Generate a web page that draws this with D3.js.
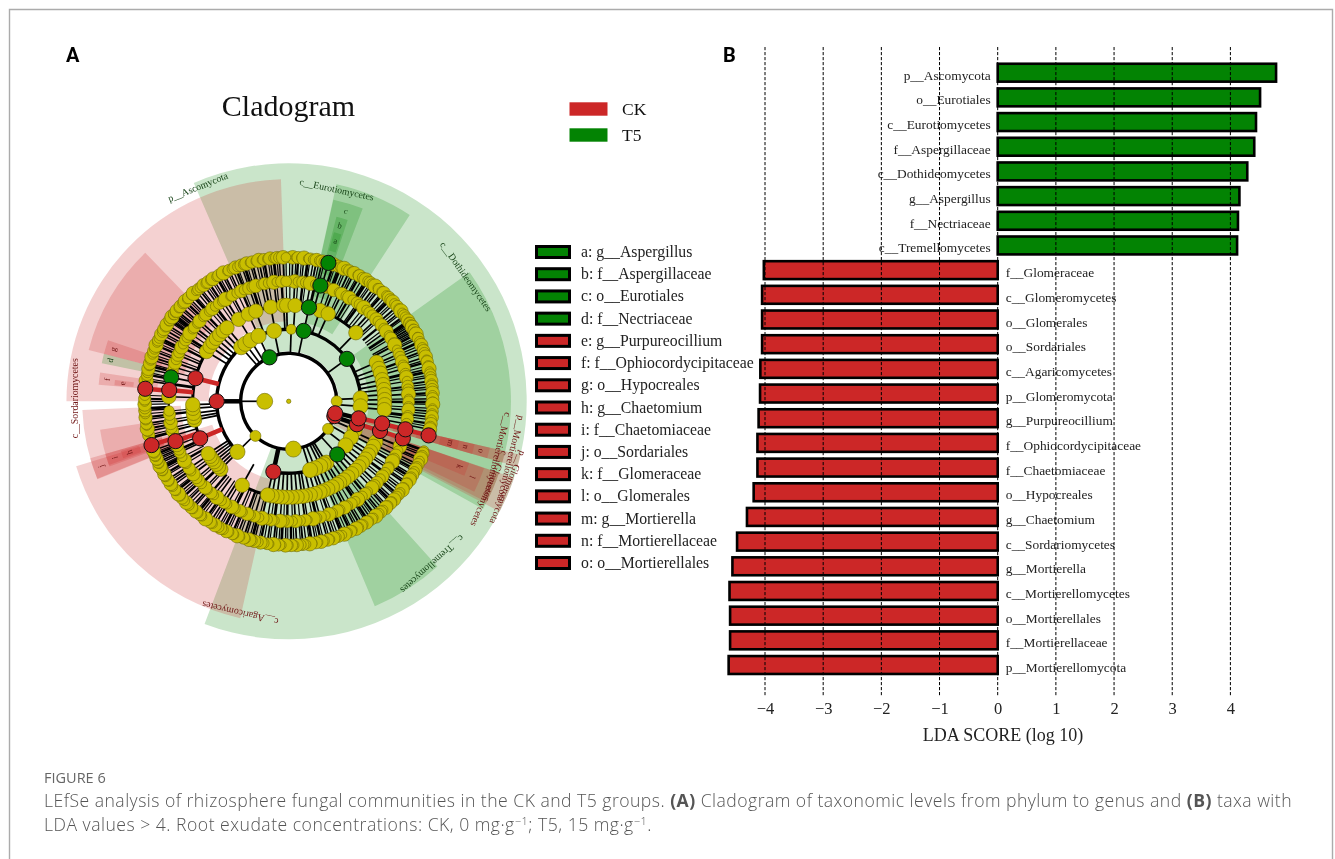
<!DOCTYPE html>
<html>
<head>
<meta charset="utf-8">
<script src="https://cdnjs.cloudflare.com/ajax/libs/d3/7.8.5/d3.min.js"></script>
<style>
html,body{margin:0;padding:0;background:#fff;}
svg{display:block;}
.serif{font-family:"Liberation Serif",serif;}
</style>
</head>
<body>
<svg id="chart" width="1335" height="859"></svg>
<script>
// ---------- panel B data ----------
const t5Taxa = ["p__Ascomycota","o__Eurotiales","c__Eurotiomycetes","f__Aspergillaceae","c__Dothideomycetes","g__Aspergillus","f__Nectriaceae","c__Tremellomycetes"];
const t5Scores = [4.785,4.51,4.44,4.41,4.29,4.155,4.13,4.115];
const ckTaxa = ["f__Glomeraceae","c__Glomeromycetes","o__Glomerales","o__Sordariales","c__Agaricomycetes","p__Glomeromycota","g__Purpureocillium","f__Ophiocordycipitaceae","f__Chaetomiaceae","o__Hypocreales","g__Chaetomium","c__Sordariomycetes","g__Mortierella","c__Mortierellomycetes","o__Mortierellales","f__Mortierellaceae","p__Mortierellomycota"];
const ckScores = [-4.02,-4.05,-4.05,-4.05,-4.08,-4.085,-4.11,-4.13,-4.13,-4.195,-4.31,-4.48,-4.56,-4.61,-4.60,-4.60,-4.625];
const ldaTicks = [-4,-3,-2,-1,0,1,2,3,4];

// ---------- legends ----------
const groupNames = ["CK","T5"];
const cladeKeyT5 = ["a: g__Aspergillus","b: f__Aspergillaceae","c: o__Eurotiales","d: f__Nectriaceae"];
const cladeKeyCK = ["e: g__Purpureocillium","f: f__Ophiocordycipitaceae","g: o__Hypocreales","h: g__Chaetomium","i: f__Chaetomiaceae","j: o__Sordariales","k: f__Glomeraceae","l: o__Glomerales","m: g__Mortierella","n: f__Mortierellaceae","o: o__Mortierellales"];

// ---------- cladogram highlighted clades: [group, level, start deg, end deg, letter] ----------
const cladeWedges = [
 ["T5",2,-23.5,200.7,""],
 ["CK",3,192.6,253,""],
 ["CK",3,270,358,""],
 ["CK",4,248,267.6,""],
 ["CK",4,284.4,316,""],
 ["CK",5,284.4,288.7,"g"],
 ["T5",5,281.5,284.4,"d"],
 ["CK",5,275,278.7,"f"],
 ["CK",6,275.3,277,"e"],
 ["CK",5,250.5,261.4,""],
 ["CK",4,247.8,254,"j"],
 ["CK",5,250,254,"i"],
 ["CK",6,251,253.5,"h"],
 ["T5",3,12.4,33,""],
 ["T5",4,12.5,21,"c"],
 ["T5",5,14.5,18,"b"],
 ["T5",6,15,17.5,"a"],
 ["T5",3,54.5,119,""],
 ["T5",3,138,157.2,""],
 ["CK",2,103,106,""],
 ["CK",3,103,106,""],
 ["CK",4,103,106,"o"],
 ["CK",5,103,106,"n"],
 ["CK",6,103,106,"m"],
 ["CK",2,108.8,117.6,""],
 ["CK",3,108.8,117,""],
 ["CK",4,108.9,116,"l"],
 ["CK",5,108.9,113,"k"]
];
// rotated clade labels: [text, group, angle of the baseline, anchor x, anchor y, anchor mode]
const cladeLabels = [
 ["p__Ascomycota","T5",-22,199,190,"middle"],
 ["c__Eurotiomycetes","T5",12,336,192.7,"middle"],
 ["c__Dothideomycetes","T5",55,463.3,278.3,"middle"],
 ["c__Tremellomycetes","T5",138,430,561.7,"middle"],
 ["c__Agaricomycetes","CK",193,241,610,"middle"],
 ["c__Sordariomycetes","CK",-90,78,398.3,"middle"],
 ["p__Mortierellomycota","CK",104,518.3,415,"start"],
 ["c__Mortierellomycetes","CK",104,505,411.7,"start"],
 ["p__Glomeromycota","CK",113,520,450,"start"],
 ["c__Glomeromycetes","CK",113,502,450,"start"]
];

// ---------- cladogram nodes (angle in degrees clockwise from north) ----------
const level0Angles = [0];
const level1Angles = [270];
const level2Yellow = [90,125,174.4,223.9];
const level3Yellow = [-41.3,-37,-32,-24.8,-11.7,2,87.6,94,113.4,120,127.8,148.5,151,154,158.5,162.7,225.4];
const level4Yellow = [-58.8,-55,-52,-49,-46,-43,-40,-31.4,-24.8,-20,-10.8,-3,-1.2,3.8,19,24.3,44.4,66,70,73,77,80,83,86,89,92,95,115,118,121.6,124,127,130,133,136,139,142,145,148,150,153,156,159,161,164,167,170,172,175,178,181,184,187,190,192.7,209,225,227,229,231,233,235,237,258.7,260.5,262.8,265.8,268];
const level5Yellow = [0.6,2.9,4.4,6.8,8.1,10.5,12.7,18.2,20.6,22.1,24.9,26.3,28.8,30.4,32.2,34.9,36.1,38.7,40.3,42.5,44.2,46.9,48.1,50.6,52.8,54.4,56.7,58.3,60.9,62.1,64.5,66.8,68.2,70.7,72.4,74.1,76.8,78.5,80.3,82.9,84.2,86.6,88.8,90.3,92.7,94.1,96.8,98.4,100.9,112,114.3,116.7,118.4,120.2,122.9,124.1,126.6,128.8,130.2,132.7,134.3,136.1,138.8,140.5,142.3,144.9,146.2,148.6,150.8,152.3,154.7,156.1,158.9,160.4,162.2,164.8,166.5,168.3,170.9,172.1,174.6,176.8,178.2,180.7,182.4,184.1,186.8,188.5,190.3,192.9,194.2,196.6,198.8,200.3,202.7,204.1,206.8,208.4,210.9,212.6,214.2,216.8,218.5,220.3,222.9,224.1,226.6,228.8,230.2,232.7,234.4,236.1,238.8,240.5,242.3,244.9,246.2,248.6,253.4,255.8,257.2,259.7,261.1,263.8,265.4,272.2,278.4,284.2,286.6,288.8,290.3,292.7,294.1,296.8,298.4,300.9,302.2,304.6,306.8,308.3,310.7,312.1,314.8,316.4,318.9,320.6,322.2,324.8,326.5,328.3,330.9,332.1,334.6,336.8,338.2,340.7,342.4,344.1,346.8,348.5,350.3,352.9,354.2,356.6,358.8];
const level6Yellow = [0.4,1.6,2.9,3.8,5.2,6.1,7.7,8.6,10,11.2,12.3,13.5,14.4,18.1,19,20.3,21.1,22.6,23.5,25,26.2,27.1,28.7,29.5,31,32.4,33.2,34.6,35.4,36.9,38.1,39,40.5,41.3,42.8,44,44.9,46.3,47.2,48.8,50,51.2,52,53.5,54.3,55.9,56.6,57.4,58.1,59,59.8,60.5,61.3,62.2,63.4,64.1,65.6,67,68.1,69.5,70.4,72,73.2,74.1,75.7,76.9,78,79.4,80.3,81.9,83,84.2,85.1,86.7,87.6,89,90.3,91.2,92.8,94,95.1,96.3,97.4,99,100.2,101.3,110,111.2,112.1,113.6,114.4,116,117.1,118.3,119.2,120.8,121.9,123,124.4,125.2,126.9,128,129.1,130.5,131.4,133,134.2,135.1,136.7,137.6,139,140.3,141.2,142.8,143.9,145,146.4,147.3,148.9,150,151.2,152.1,153.7,154.6,156,157.3,158.2,159.8,160.9,162,163.4,164.3,165.9,167,168.2,169.1,170.7,171.6,173,174.3,175.2,176.8,177.9,179,180.4,181.3,182.9,184,185.2,186.1,187.7,188.6,190,191.3,192.2,193.8,194.9,196,197.4,198.3,199.9,201,202.2,203.1,204.7,205.6,207,208.3,209.2,210.8,211.9,213,214.4,215.3,216.9,218,219.2,220.1,221.7,222.6,224,225.3,226.2,227.8,228.9,230,231.4,232.3,233.9,235,236.2,237.1,238.7,239.6,241,241.8,242.5,243.3,244.2,245,245.9,246.6,247.4,248.3,249.1,250,255.2,256.4,257.9,259,260.2,261.1,262.7,263.6,265,266.3,267.2,268.8,269.9,271,272.4,278.2,279.1,280.7,281.6,283,284.3,285.2,286.8,287.9,289,290.4,291.3,292.9,294,295.2,296.1,297.7,298.6,300,301.3,302.2,303.8,304.5,305.2,305.9,306.7,307.4,308.2,309,310.4,311.3,312.9,314,315.2,316.1,317.7,318.6,320,321.3,322.2,323.8,324.9,326,327.4,328.3,329.9,331,332.2,333.1,334.7,335.6,337,338.3,339.2,340.8,341.9,343,344.4,345.3,346.9,348,349.2,350.1,351.7,352.6,354,355.3,356.2,357.8,358.9];
// significant nodes: [level, angle]
const t5Nodes = [[2,-23.7],[3,12],[3,53.9],[3,137.6],[4,12.2],[5,15.3],[6,16],[5,281.5]];
const ckNodes = [[2,108],[3,108.6],[4,108],[5,108],[2,104.5],[3,103.7],[4,103.3],[5,103.5],[6,103.7],[3,270],[3,192.3],[4,247.3],[4,283.9],[5,250.6],[6,252.3],[5,275.4],[6,275]];
// branch arcs: [level, start deg, end deg]
const branchArcs = [[2,92,452],[3,-41,87],[3,120,192],[3,225,319],[4,12,44],[4,-58,-10],[4,66,96],[4,115,209],[4,225,237],[4,247,320],[5,0,360]];

// ---------- style tables ----------
const groupColor = {CK:"#cc2727", T5:"#038303"};
const labelColor = {CK:"#6f1414", T5:"#123f12"};
const leafRadiusCycle = [5.6,6.9,4.8,6.2,5.2,7.2,4.6,6,5.4,6.7,5,6.4];
const spokeWidthCycle = [1.2,1.7,1.2,2.4,1.1,1.5,2.8,1.2,1.4,1.9];

const svg = d3.select("#chart");
const root = svg.append("g").style("filter","blur(0.45px)");

// frame
root.append("path").attr("d",d3.line()([[9.5,859],[9.5,9.5],[1332.5,9.5],[1332.5,859]]))
  .attr("fill","none").attr("stroke","#ababab").attr("stroke-width",1.4);

// panel letters and title
root.selectAll(".panel").data([["A",66,62],["B",723,62]]).join("text")
  .attr("x",d=>d[1]).attr("y",d=>d[2]).text(d=>d[0])
  .attr("font-family","Roboto,'Liberation Sans',sans-serif").attr("font-weight",700).attr("font-size",20).attr("fill","#000");
root.append("text").attr("class","serif").attr("x",288.5).attr("y",116).attr("text-anchor","middle")
  .attr("font-size",30).attr("fill","#111").text("Cladogram");

// group legend
const groupY = d3.scalePoint().domain(groupNames).range([109,135]);
root.selectAll(".grect").data(groupNames).join("rect")
  .attr("x",569.5).attr("y",d=>groupY(d)-6.7).attr("width",38).attr("height",13.4).attr("fill",d=>groupColor[d]);
root.selectAll(".gtext").data(groupNames).join("text").attr("class","serif")
  .attr("x",622).attr("y",d=>groupY(d)+6).attr("font-size",17.5).attr("fill","#111").text(d=>d);

// clade key
const cladeKey = cladeKeyT5.map(t=>["T5",t]).concat(cladeKeyCK.map(t=>["CK",t]));
const keyY = d3.scalePoint().domain(cladeKey.map(d=>d[1])).range([252,563]);
root.selectAll(".krect").data(cladeKey).join("rect")
  .attr("x",536.5).attr("y",d=>keyY(d[1])-5.5).attr("width",33).attr("height",11)
  .attr("fill",d=>groupColor[d[0]]).attr("stroke","#000").attr("stroke-width",3);
root.selectAll(".ktext").data(cladeKey).join("text").attr("class","serif")
  .attr("x",581).attr("y",d=>keyY(d[1])+5).attr("font-size",15.75).attr("fill","#222").text(d=>d[1]);

// ---------- cladogram ----------
const cx = 288.7, cy = 401.3;
const clad = root.append("g").attr("transform",`translate(${cx},${cy})`);
const rad = d=>d*Math.PI/180;
const ringR = d3.scaleLinear().domain([0,6]).range([0,144]);
const wedgeOuter = d3.scaleLinear().domain([2,6]).range([238,175]);
const wedgeInner = d3.scaleLinear().domain([2,3,4,5,6]).range([50,80,108,132,156]);
const nodeSize = d3.scaleOrdinal().domain([0,1,2,3,4]).range([2.2,8,7,7.6,7.2]);
const arcGen = d3.arc();

clad.selectAll(".wedge").data(cladeWedges).join("path")
  .attr("d",d=>arcGen({innerRadius:wedgeInner(d[1]),outerRadius:wedgeOuter(d[1]),startAngle:rad(d[2]),endAngle:rad(d[3])}))
  .attr("fill",d=>groupColor[d[0]]).attr("fill-opacity",0.21);

// branch arcs
const branchWidth = d3.scaleOrdinal().domain([2,3,4,5]).range([3.4,3.4,3,2]);
clad.selectAll(".branch").data(branchArcs).join("path")
  .attr("d",d=>{const r=ringR(d[0]),w=branchWidth(d[0])/2;
    return arcGen({innerRadius:r-w,outerRadius:r+w,startAngle:rad(d[1]),endAngle:rad(d[2])});})
  .attr("fill","#000");

// spokes
const allNodes = [];
level0Angles.forEach(a=>allNodes.push({l:0,a,g:null}));
level1Angles.forEach(a=>allNodes.push({l:1,a,g:null}));
[[2,level2Yellow],[3,level3Yellow],[4,level4Yellow],[5,level5Yellow],[6,level6Yellow]].forEach(([l,arr])=>arr.forEach((a,i)=>allNodes.push({l,a,g:null,i})));
t5Nodes.forEach(d=>allNodes.push({l:d[0],a:d[1],g:"T5"}));
ckNodes.forEach(d=>allNodes.push({l:d[0],a:d[1],g:"CK"}));

const spokePts = d=>{
  const from = d.l===1 ? ringR(2) : ringR(d.l-1);
  return d3.line()([d3.pointRadial(rad(d.a),from),d3.pointRadial(rad(d.a),ringR(d.l))]);
};
clad.selectAll(".spoke").data(allNodes.filter(d=>d.l>0&&d.l!==2)).join("path")
  .attr("d",spokePts).attr("fill","none")
  .attr("stroke",d=>d.g==="CK"&&d.l>3?"#cc2727":"#000")
  .attr("stroke-width",d=>d.g==="CK"?4.5:(d.l>=5&&d.i!==undefined?spokeWidthCycle[d.i%spokeWidthCycle.length]:1.7));

// nodes: plain ones first, then highlighted ones above
const plain = allNodes.filter(d=>!d.g);
const marked = allNodes.filter(d=>d.g);
const plainRadius = d=>{
  if (d.l>=5) return leafRadiusCycle[d.i%leafRadiusCycle.length];
  if (d.l===2) return d.a===174.4?8:5.5;
  if (d.l===3&&d.a===2) return 5;
  return nodeSize(d.l);
};
clad.selectAll(".yn").data(plain).join("circle")
  .attr("cx",d=>d3.pointRadial(rad(d.a),ringR(d.l))[0]).attr("cy",d=>d3.pointRadial(rad(d.a),ringR(d.l))[1])
  .attr("r",plainRadius)
  .attr("fill","#c9bf00").attr("stroke","#6e6900").attr("stroke-width",0.6);
clad.selectAll(".sn").data(marked).join("circle")
  .attr("cx",d=>d3.pointRadial(rad(d.a),ringR(d.l))[0]).attr("cy",d=>d3.pointRadial(rad(d.a),ringR(d.l))[1])
  .attr("r",7.6).attr("fill",d=>groupColor[d.g]).attr("stroke","#111").attr("stroke-width",1);

// letters on the clade wedges
clad.selectAll(".letter").data(cladeWedges.filter(d=>d[4])).join("text").attr("class","serif")
  .attr("transform",d=>{const m=(d[2]+d[3])/2,[x,y]=d3.pointRadial(rad(m),wedgeOuter(d[1])-8);return `translate(${x},${y}) rotate(${m})`;})
  .attr("text-anchor","middle").attr("dy","0.3em").attr("font-size",8.5)
  .attr("fill",d=>labelColor[d[0]]).text(d=>d[4]);

// rotated clade labels
root.selectAll(".clabel").data(cladeLabels).join("text").attr("class","serif")
  .attr("transform",d=>`translate(${d[3]},${d[4]}) rotate(${d[2]})`)
  .attr("text-anchor",d=>d[5]).attr("font-size",9.8).attr("fill",d=>labelColor[d[1]]).text(d=>d[0]);

// ---------- LDA bars ----------
const taxa = t5Taxa.concat(ckTaxa);
const scores = t5Scores.concat(ckScores);
const rows = taxa.map((t,i)=>({t,v:scores[i]}));
const x = d3.scaleLinear().domain([-4,4]).range([765,1230.4]);
const y = d3.scaleBand().domain(taxa).range([60.36,677.36]).paddingInner(0.25).paddingOuter(0.125);

root.selectAll(".bar").data(rows).join("rect")
  .attr("x",d=>Math.min(x(0),x(d.v))).attr("width",d=>Math.abs(x(d.v)-x(0)))
  .attr("y",d=>y(d.t)+0.3).attr("height",y.bandwidth()-0.6)
  .attr("fill",d=>d.v>0?groupColor.T5:groupColor.CK).attr("stroke","#000").attr("stroke-width",2.6);

root.selectAll(".barlabel").data(rows).join("text").attr("class","serif")
  .attr("x",d=>d.v>0?x(0)-7:x(0)+8).attr("y",d=>y(d.t)+y.bandwidth()/2+7)
  .attr("text-anchor",d=>d.v>0?"end":"start").attr("font-size",13.4).attr("fill","#222").text(d=>d.t);

// grid lines over the bars
root.selectAll(".grid").data(ldaTicks).join("line")
  .attr("x1",d=>x(d)).attr("x2",d=>x(d)).attr("y1",47).attr("y2",696)
  .attr("stroke","#000").attr("stroke-width",1).attr("stroke-dasharray","3.2,1.8");

const axis = root.append("g").attr("transform","translate(0,697)")
  .call(d3.axisBottom(x).tickValues(ldaTicks).tickSize(0).tickPadding(5).tickFormat(d3.format("d")));
axis.select(".domain").remove();
axis.selectAll("text").attr("font-family","Liberation Serif").attr("font-size",16.5).attr("fill","#222");

root.append("text").attr("class","serif").attr("x",1003).attr("y",741).attr("text-anchor","middle")
  .attr("font-size",18).attr("fill","#222").text("LDA SCORE (log 10)");

// ---------- caption ----------
const capFont = "'Open Sans',Lato,sans-serif";
root.append("text").attr("x",44).attr("y",783).attr("font-family",capFont).attr("font-size",14.5)
  .attr("font-weight",500).attr("fill","#666").text("FIGURE 6");
const capLine = yPos => root.append("text").attr("x",44).attr("y",yPos).attr("font-family",capFont).attr("font-size",17.6).attr("font-weight",300).attr("fill","#555");
const fit = (sel,w)=>{const n=sel.text().length, m=sel.node().getComputedTextLength(); sel.attr("letter-spacing",(w-m)/n);};
const line1 = capLine(807);
line1.append("tspan").text("LEfSe analysis of rhizosphere fungal communities in the CK and T5 groups. ");
line1.append("tspan").attr("font-weight",700).text("(A)");
line1.append("tspan").text(" Cladogram of taxonomic levels from phylum to genus and ");
line1.append("tspan").attr("font-weight",700).text("(B)");
line1.append("tspan").text(" taxa with");
fit(line1,1248);
const line2 = capLine(831);
line2.append("tspan").text("LDA values > 4. Root exudate concentrations: CK, 0 mg·g");
line2.append("tspan").attr("dy",-6).attr("font-size",11).text("−1");
line2.append("tspan").attr("dy",6).text("; T5, 15 mg·g");
line2.append("tspan").attr("dy",-6).attr("font-size",11).text("−1");
line2.append("tspan").attr("dy",6).text(".");
fit(line2,608);
</script>
</body>
</html>
